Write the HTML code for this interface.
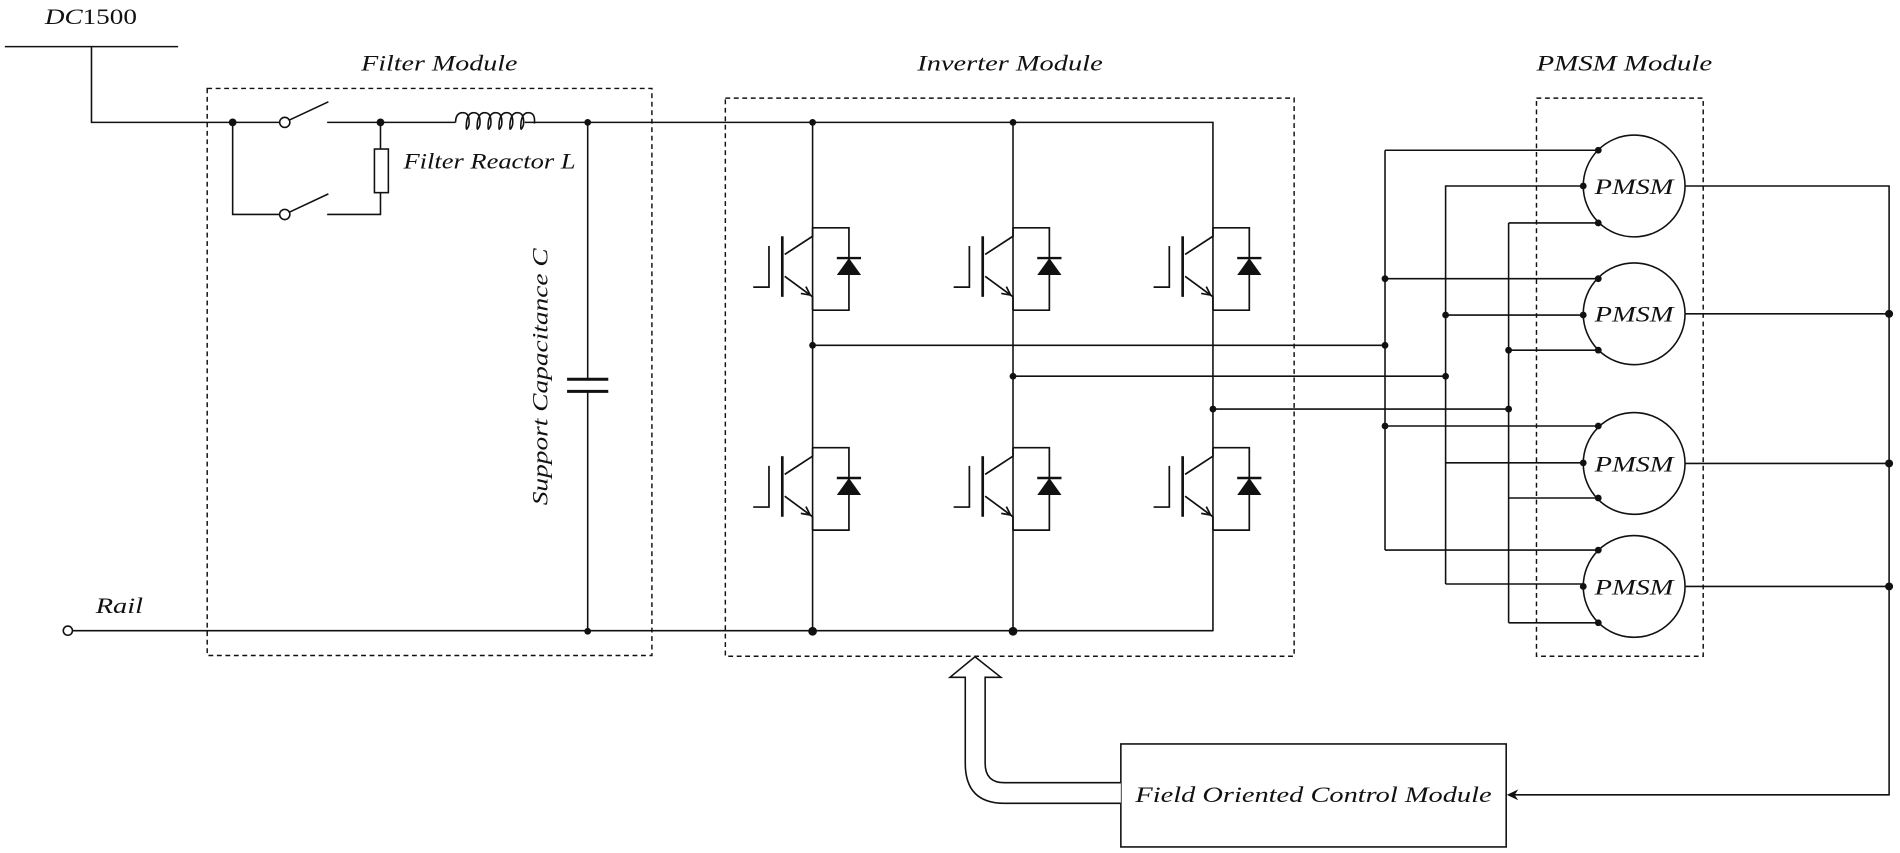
<!DOCTYPE html>
<html><head><meta charset="utf-8"><style>
html,body{margin:0;padding:0;background:#fff;}
svg{display:block;}
text{font-family:"Liberation Serif",serif;font-style:italic;fill:#111;}
</style></head><body>
<svg width="1900" height="853" viewBox="0 0 1568 704" preserveAspectRatio="none" xmlns="http://www.w3.org/2000/svg">
<defs>
<g id="igbt" fill="none" stroke="#111" stroke-width="1.4">
  <path d="M0,0 L30,0 L30,68 L0,68"/>
  <path d="M0,0 L0,7 L-23,22"/>
  <path d="M-23,40 L0,57 L0,68"/>
  <line x1="-25" y1="7" x2="-25" y2="57" stroke-width="2.2"/>
  <path d="M-49,49 L-36,49 L-36,15"/>
  <polyline points="-9.7,54.2 -2,55.5 -5.5,48.6"/>
  <line x1="20" y1="25" x2="40" y2="25" stroke-width="2"/>
  <polygon points="30,25 20,39 40,39" fill="#111" stroke="none"/>
</g>
</defs>
<g fill="none" stroke="#111" stroke-width="1.3">
  <line x1="4" y1="38.5" x2="147" y2="38.5"/>
  <path d="M75.5,38.5 L75.5,101 L231,101"/>
  <line x1="239" y1="99" x2="271" y2="84"/>
  <line x1="270" y1="101" x2="376" y2="101"/>
  <path d="M433,101 L1001,101 L1001,521"/>
  <path d="M376,101 q0,-8 6,-8 q6,0 5,10 q-3,8 -2,-2 q1,-8 6,-8 q6,0 5,10 q-3,8 -2,-2 q1,-8 6,-8 q6,0 5,10 q-3,8 -2,-2 q1,-8 6,-8 q6,0 5,10 q-3,8 -2,-2 q1,-8 6,-8 q6,0 5,10 q-3,8 -2,-2 q1,-8 6,-8 q6,0 5,10 q-3,8 -2,-2 q1,-8 6,-8 q6,0 5,9"/>
  <path d="M192,101 L192,177 L231,177"/>
  <line x1="239" y1="175" x2="271" y2="160"/>
  <path d="M270,177 L314,177 L314,159"/>
  <path d="M314,101 L314,123"/>
  <rect x="309" y="123" width="11.5" height="36"/>
  <circle cx="235" cy="101" r="4.2" fill="#fff"/>
  <circle cx="235" cy="177" r="4.2" fill="#fff"/>
  <line x1="485" y1="101" x2="485" y2="313"/>
  <line x1="485" y1="323" x2="485" y2="521"/>
  <line x1="468" y1="313" x2="502" y2="313" stroke-width="2.4"/>
  <line x1="468" y1="323" x2="502" y2="323" stroke-width="2.4"/>
  <line x1="60" y1="520.5" x2="1001" y2="520.5"/>
  <circle cx="56" cy="520.5" r="3.8" fill="#fff"/>
  <line x1="670.6" y1="101" x2="670.6" y2="521"/>
  <line x1="836" y1="101" x2="836" y2="521"/>
  <line x1="670.6" y1="285" x2="1143" y2="285"/>
  <line x1="836" y1="310.5" x2="1193" y2="310.5"/>
  <line x1="1001" y1="337.6" x2="1245" y2="337.6"/>
  <line x1="1143" y1="124" x2="1143" y2="454"/>
  <line x1="1193" y1="153" x2="1193" y2="482"/>
  <line x1="1245" y1="184" x2="1245" y2="514"/>
  <line x1="1143" y1="124" x2="1319" y2="124"/>
  <line x1="1193" y1="153.5" x2="1306" y2="153.5"/>
  <line x1="1245" y1="184" x2="1319" y2="184"/>
  <line x1="1143" y1="230" x2="1319" y2="230"/>
  <line x1="1193" y1="260" x2="1306" y2="260"/>
  <line x1="1245" y1="289" x2="1319" y2="289"/>
  <line x1="1143" y1="351.6" x2="1319" y2="351.6"/>
  <line x1="1193" y1="382" x2="1306" y2="382"/>
  <line x1="1245" y1="411" x2="1319" y2="411"/>
  <line x1="1143" y1="454" x2="1319" y2="454"/>
  <line x1="1193" y1="482" x2="1306" y2="482"/>
  <line x1="1245" y1="514" x2="1319" y2="514"/>
  <circle cx="1348.6" cy="153.5" r="42"/>
  <circle cx="1348.6" cy="259" r="42"/>
  <circle cx="1348.6" cy="382.5" r="42"/>
  <circle cx="1348.6" cy="484" r="42"/>
  <path d="M1390.6,153.5 L1559,153.5 L1559,656 L1249,656"/>
  <line x1="1390.6" y1="259" x2="1559" y2="259"/>
  <line x1="1390.6" y1="382.5" x2="1559" y2="382.5"/>
  <line x1="1390.6" y1="484" x2="1559" y2="484"/>
  <rect x="925" y="614" width="318" height="85"/>
  <path d="M925,646 L829,646 Q813,646 813,630 L813,559 L826,559 L804.6,542 L784,559 L796.6,559 L796.6,630 Q796.6,663 829,663 L925,663" fill="#fff"/>
  <g stroke-dasharray="4,3" stroke-width="1.2">
    <rect x="171" y="73" width="367" height="468"/>
    <rect x="598.6" y="81" width="469.4" height="460.6"/>
    <rect x="1268" y="81" width="137.6" height="460.6"/>
  </g>
</g>
<polygon points="1243.5,656 1253,651.5 1250,656 1253,660.5" fill="#111"/>
<use href="#igbt" x="670.6" y="188"/>
<use href="#igbt" x="836" y="188"/>
<use href="#igbt" x="1001" y="188"/>
<use href="#igbt" x="670.6" y="369.5"/>
<use href="#igbt" x="836" y="369.5"/>
<use href="#igbt" x="1001" y="369.5"/>
<g fill="#111">
  <circle cx="192" cy="101" r="3.2"/>
  <circle cx="314" cy="101" r="3.2"/>
  <circle cx="485" cy="101" r="2.8"/>
  <circle cx="485" cy="521" r="2.8"/>
  <circle cx="670.6" cy="101" r="2.8"/>
  <circle cx="836" cy="101" r="2.8"/>
  <circle cx="670.6" cy="521" r="3.6"/>
  <circle cx="836" cy="521" r="3.6"/>
  <circle cx="670.6" cy="285" r="2.8"/>
  <circle cx="836" cy="310.5" r="2.8"/>
  <circle cx="1001" cy="337.6" r="2.8"/>
  <circle cx="1143" cy="285" r="2.8"/>
  <circle cx="1193" cy="310.5" r="2.8"/>
  <circle cx="1245" cy="337.6" r="2.8"/>
  <circle cx="1143" cy="230" r="2.8"/>
  <circle cx="1193" cy="260" r="2.8"/>
  <circle cx="1245" cy="289" r="2.8"/>
  <circle cx="1143" cy="351.6" r="2.8"/>
  <circle cx="1559" cy="259" r="3.3"/>
  <circle cx="1559" cy="382.5" r="3.3"/>
  <circle cx="1559" cy="484" r="3.3"/>
  <circle cx="1319" cy="124" r="2.8"/><circle cx="1306.6" cy="153.5" r="2.8"/><circle cx="1319" cy="184" r="2.8"/>
  <circle cx="1319" cy="230" r="2.8"/><circle cx="1306.6" cy="260" r="2.8"/><circle cx="1319" cy="289" r="2.8"/>
  <circle cx="1319" cy="351.6" r="2.8"/><circle cx="1306.6" cy="382" r="2.8"/><circle cx="1319" cy="411" r="2.8"/>
  <circle cx="1319" cy="454" r="2.8"/><circle cx="1306.6" cy="484" r="2.8"/><circle cx="1319" cy="514" r="2.8"/>
</g>
<text x="37" y="20" font-size="18" textLength="76" lengthAdjust="spacingAndGlyphs">DC<tspan font-style="normal">1500</tspan></text>
<text x="298" y="58" font-size="18" textLength="129" lengthAdjust="spacingAndGlyphs">Filter Module</text>
<text x="757" y="58" font-size="18" textLength="153" lengthAdjust="spacingAndGlyphs">Inverter Module</text>
<text x="1268" y="58" font-size="18" textLength="145" lengthAdjust="spacingAndGlyphs">PMSM Module</text>
<text x="333" y="139" font-size="18" textLength="142" lengthAdjust="spacingAndGlyphs">Filter Reactor L</text>
<text x="79" y="506" font-size="18" textLength="39" lengthAdjust="spacingAndGlyphs">Rail</text>
<text transform="translate(452,417) rotate(-90)" font-size="18" textLength="212" lengthAdjust="spacingAndGlyphs">Support Capacitance C</text>
<text x="1316" y="160" font-size="18" textLength="65" lengthAdjust="spacingAndGlyphs">PMSM</text>
<text x="1316" y="265.5" font-size="18" textLength="65" lengthAdjust="spacingAndGlyphs">PMSM</text>
<text x="1316" y="389" font-size="18" textLength="65" lengthAdjust="spacingAndGlyphs">PMSM</text>
<text x="1316" y="490.5" font-size="18" textLength="65" lengthAdjust="spacingAndGlyphs">PMSM</text>
<text x="937" y="662" font-size="18" textLength="294" lengthAdjust="spacingAndGlyphs">Field Oriented Control Module</text>
</svg>
</body></html>
